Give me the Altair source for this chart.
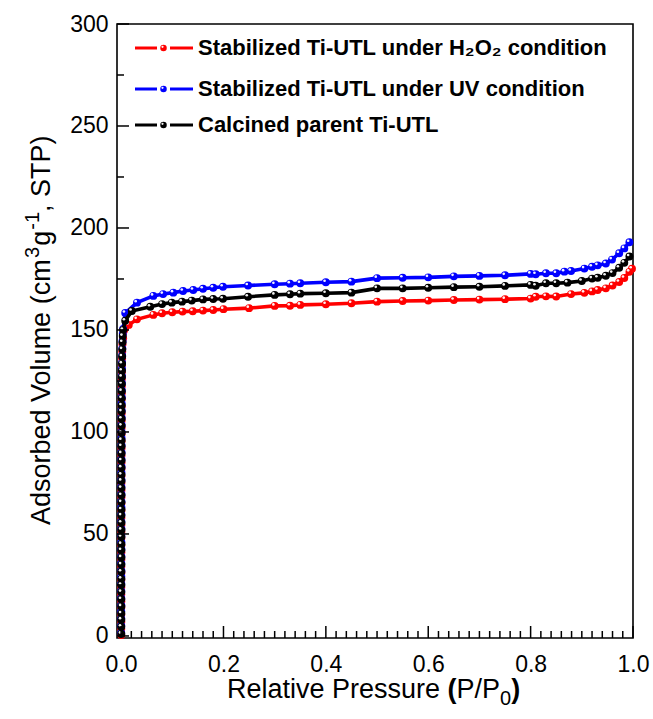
import altair as alt
import pandas as pd

FONT = "Liberation Sans"
W, H = 516, 614

# ---------------- data ----------------
series_names = ["Stabilized Ti-UTL under H\u2082O\u2082 condition",
                "Stabilized Ti-UTL under UV condition",
                "Calcined parent Ti-UTL"]
series_colors = ["#ff0000", "#0000ff", "#000000"]

# near-vertical low-pressure part (P/P0 ~ 0)
red_col_x = [0.0004, 0.0004, 0.0005, 0.0004, 0.0005, 0.0005, 0.0004, 0.0005, 0.0005, 0.0006,
             0.0005, 0.0006, 0.0006, 0.0005, 0.0006, 0.0006, 0.0007, 0.0006, 0.0007, 0.0007,
             0.0007, 0.0008, 0.0007, 0.0008, 0.0008, 0.0009, 0.0008, 0.0009, 0.0009, 0.0010,
             0.0010, 0.0011, 0.0011, 0.0012, 0.0012, 0.0013, 0.0014, 0.0015, 0.0016, 0.0018,
             0.0020, 0.0023, 0.0027]
red_col_y = [0.5, 3.5, 7, 10.5, 14, 17, 20.5, 24, 27.5, 31,
             34, 37.5, 41, 44.5, 48, 51, 54.5, 58, 61.5, 65,
             68, 71.5, 75, 78.5, 82, 85, 88.5, 92, 95.5, 99,
             102, 105.5, 109, 112.5, 116, 119, 122.5, 126, 129.5, 133,
             136, 139.5, 143]
blue_col_x = [0.0003, 0.0004, 0.0004, 0.0004, 0.0005, 0.0004, 0.0005, 0.0005, 0.0005, 0.0006,
              0.0005, 0.0006, 0.0006, 0.0006, 0.0006, 0.0007, 0.0006, 0.0007, 0.0007, 0.0007,
              0.0008, 0.0007, 0.0008, 0.0008, 0.0009, 0.0008, 0.0009, 0.0009, 0.0010, 0.0010,
              0.0011, 0.0011, 0.0012, 0.0012, 0.0013, 0.0014, 0.0015, 0.0016, 0.0017, 0.0019,
              0.0021, 0.0024, 0.0028, 0.0033]
blue_col_y = [1.5, 5, 8.5, 12, 15, 18.5, 22, 25.5, 29, 32,
              35.5, 39, 42.5, 46, 49, 52.5, 56, 59.5, 63, 66,
              69.5, 73, 76.5, 80, 83, 86.5, 90, 93.5, 97, 100,
              103.5, 107, 110.5, 114, 117, 120.5, 124, 127.5, 131, 134,
              137.5, 141, 144.5, 148]
black_col_x = [0.0004, 0.0004, 0.0004, 0.0005, 0.0005, 0.0004, 0.0005, 0.0005, 0.0006, 0.0005,
               0.0006, 0.0006, 0.0005, 0.0006, 0.0006, 0.0007, 0.0007, 0.0006, 0.0007, 0.0007,
               0.0008, 0.0007, 0.0008, 0.0008, 0.0008, 0.0009, 0.0009, 0.0009, 0.0010, 0.0010,
               0.0011, 0.0011, 0.0012, 0.0012, 0.0013, 0.0014, 0.0015, 0.0016, 0.0017, 0.0019,
               0.0021, 0.0024, 0.0028, 0.0032]
black_col_y = [1, 4.5, 8, 11, 14.5, 18, 21.5, 25, 28, 31.5,
               35, 38.5, 42, 45, 48.5, 52, 55.5, 59, 62, 65.5,
               69, 72.5, 76, 79, 82.5, 86, 89.5, 93, 96, 99.5,
               103, 106.5, 110, 113, 116.5, 120, 123.5, 127, 130, 133.5,
               137, 140.5, 144, 147]

# plateau / high-pressure part
red_x = [0.004, 0.015, 0.031, 0.063, 0.08, 0.10, 0.12, 0.14, 0.16, 0.18,
         0.20, 0.25, 0.30, 0.33, 0.35, 0.40, 0.45, 0.50, 0.55, 0.60,
         0.65, 0.70, 0.75, 0.80, 0.81, 0.83, 0.85, 0.879, 0.905, 0.92,
         0.931, 0.947, 0.96, 0.973, 0.983, 0.993, 0.998]
red_y = [146, 152.5, 155.2, 157.4, 158.2, 158.7, 159.0, 159.2, 159.5, 159.8,
         160.2, 160.7, 161.8, 161.9, 162.3, 162.6, 163.1, 163.9, 164.2, 164.4,
         164.7, 164.9, 165.1, 165.4, 166.3, 166.5, 166.4, 167.6, 168.2, 168.9,
         169.6, 170.4, 171.8, 173.5, 175.5, 178.5, 180.0]
blue_x = [0.004, 0.008, 0.031, 0.063, 0.082, 0.102, 0.121, 0.141, 0.16, 0.18,
          0.199, 0.248, 0.30, 0.33, 0.35, 0.40, 0.45, 0.50, 0.55, 0.60,
          0.65, 0.70, 0.75, 0.80, 0.81, 0.83, 0.85, 0.866, 0.879, 0.905,
          0.92, 0.931, 0.947, 0.959, 0.973, 0.983, 0.993]
blue_y = [150.5, 158.3, 163.4, 166.7, 167.6, 168.3, 169.1, 169.6, 170.2, 170.7,
          171.2, 171.8, 172.4, 172.7, 172.9, 173.4, 173.7, 175.4, 175.6, 175.8,
          176.3, 176.5, 176.8, 177.5, 177.3, 177.8, 177.8, 178.6, 178.9, 180.1,
          181.0, 181.7, 182.6, 184.5, 187.6, 190.0, 193.0]
black_x = [0.004, 0.008, 0.021, 0.057, 0.08, 0.099, 0.119, 0.138, 0.16, 0.18,
           0.199, 0.248, 0.30, 0.33, 0.35, 0.40, 0.45, 0.50, 0.55, 0.60,
           0.65, 0.70, 0.75, 0.80, 0.81, 0.83, 0.85, 0.872, 0.90, 0.92,
           0.931, 0.947, 0.96, 0.973, 0.983, 0.993]
black_y = [150, 154.5, 159.3, 161.4, 162.7, 163.4, 163.9, 164.4, 165.0, 165.2,
           165.3, 166.3, 167.2, 167.5, 167.8, 168.0, 168.3, 170.4, 170.4, 170.7,
           171.0, 171.2, 171.6, 172.1, 171.7, 172.9, 172.9, 173.2, 174.0, 175.2,
           175.6, 176.6, 177.9, 180.5, 182.9, 186.0]

x_major = [0.0, 0.2, 0.4, 0.6, 0.8, 1.0]
x_minor = [0.02, 0.04, 0.06, 0.08, 0.10, 0.12, 0.14, 0.16, 0.18,
           0.22, 0.24, 0.26, 0.28, 0.30, 0.32, 0.34, 0.36, 0.38,
           0.42, 0.44, 0.46, 0.48, 0.50, 0.52, 0.54, 0.56, 0.58,
           0.62, 0.64, 0.66, 0.68, 0.70, 0.72, 0.74, 0.76, 0.78,
           0.82, 0.84, 0.86, 0.88, 0.90, 0.92, 0.94, 0.96, 0.98]
y_major = [0, 50, 100, 150, 200, 250, 300]
y_minor = [25, 75, 125, 175, 225, 275]

# ---------------- scales / axes ----------------
xs = alt.Scale(domain=[-0.008, 1.0], nice=False, zero=False)
ys = alt.Scale(domain=[-1, 300], nice=False, zero=False)

x_axis = alt.Axis(values=x_major, format=".1f", grid=False, domain=False, ticks=False,
                  labelFont=FONT, labelFontSize=23, labelColor="black", labelPadding=15,
                  labelFlush=False, title="")
y_axis = alt.Axis(values=y_major, format="d", grid=False, domain=False, ticks=False,
                  labelFont=FONT, labelFontSize=23, labelColor="black", labelPadding=9,
                  labelFlush=False, title="")


def X(field):
    return alt.X(field, scale=xs, axis=x_axis)


def Y(field):
    return alt.Y(field, scale=ys, axis=y_axis)


def series_layers(xcol, ycol, xmain, ymain, color):
    xv = list(xcol) + list(xmain)
    yv = list(ycol) + list(ymain)
    df = pd.DataFrame({"x": xv, "y": yv, "i": list(range(len(xv)))})
    base = alt.Chart(df)
    line = base.mark_line(color=color, strokeWidth=3.6).encode(x=X("x:Q"), y=Y("y:Q"), order="i:Q")
    pts = base.mark_point(filled=True, color=color, size=62, opacity=1).encode(x=X("x:Q"), y=Y("y:Q"))
    hl = base.mark_point(filled=True, color="white", size=7, opacity=0.95).encode(
        x=X("x:Q"), y=Y("y:Q"), xOffset=alt.value(-1.3), yOffset=alt.value(-1.5))
    return [line, pts, hl]


layers = []
layers += series_layers(red_col_x, red_col_y, red_x, red_y, series_colors[0])
layers += series_layers(blue_col_x, blue_col_y, blue_x, blue_y, series_colors[1])
layers += series_layers(black_col_x, black_col_y, black_x, black_y, series_colors[2])

# inward ticks
tx_major = alt.Chart(pd.DataFrame({"x": x_major})).mark_rule(color="black", strokeWidth=1.5).encode(
    x=X("x:Q"), y=alt.value(H), y2=alt.value(H - 12))
tx_minor = alt.Chart(pd.DataFrame({"x": x_minor})).mark_rule(color="black", strokeWidth=1.5).encode(
    x=X("x:Q"), y=alt.value(H), y2=alt.value(H - 7))
ty_major = alt.Chart(pd.DataFrame({"y": y_major})).mark_rule(color="black", strokeWidth=1.5).encode(
    y=Y("y:Q"), x=alt.value(0), x2=alt.value(12))
ty_minor = alt.Chart(pd.DataFrame({"y": y_minor})).mark_rule(color="black", strokeWidth=1.5).encode(
    y=Y("y:Q"), x=alt.value(0), x2=alt.value(7))
layers += [tx_major, tx_minor, ty_major, ty_minor]

# legend (upper-left corner of the plot, pixel positions inside the plot)
leg = pd.DataFrame({"label": series_names, "color": series_colors, "ty": [24, 65, 101]})
lbase = alt.Chart(leg)
LY = alt.Y("ty:Q", scale=None)
leg_l1 = lbase.mark_rule(strokeWidth=3).encode(
    x=alt.value(18), x2=alt.value(40), y=LY, color=alt.Color("color:N", scale=None))
leg_l2 = lbase.mark_rule(strokeWidth=3).encode(
    x=alt.value(53), x2=alt.value(76), y=LY, color=alt.Color("color:N", scale=None))
leg_pt = lbase.mark_point(filled=True, size=42, opacity=1).encode(
    x=alt.value(46.5), y=LY, color=alt.Color("color:N", scale=None))
leg_hl = lbase.mark_point(filled=True, size=5, color="white", opacity=0.95).encode(
    x=alt.value(45.5), y=LY, yOffset=alt.value(-1.2))
leg_tx = lbase.mark_text(align="left", baseline="middle", font=FONT, fontSize=22,
                         fontWeight="bold", color="black").encode(
    x=alt.value(81), y=LY, text="label:N")
layers += [leg_l1, leg_l2, leg_pt, leg_hl, leg_tx]


# axis titles, built from pieces so that sub/superscripts and bold parts match
def piece(text, x, y, size, weight="normal", angle=0):
    return alt.Chart(pd.DataFrame({"t": [text]})).mark_text(
        align="left", baseline="alphabetic", font=FONT, fontSize=size,
        fontWeight=weight, angle=angle, color="black").encode(
        x=alt.value(x), y=alt.value(y), text="t:N")


TS = 27   # title font size
SS = 20   # sub/superscript size
# x title: "Relative Pressure (P/P0)"
x0, yb = 110, 674
xa = x0 + (7.891 + 0.278) * TS
layers += [
    piece("Relative Pressure", x0, yb, TS),
    piece("(", xa, yb, TS, "bold"),
    piece("P/P", xa + 0.333 * TS, yb, TS),
    piece("0", xa + 1.945 * TS, yb + 7, SS),
    piece(")", xa + 1.945 * TS + 0.556 * SS, yb, TS, "bold"),
]
# y title: "Adsorbed Volume (cm3g-1, STP)" rotated
bx, by = -67, 501
y1 = by - 9.892 * TS
y2 = y1 - 0.556 * SS - 1
y3 = y2 - 0.556 * TS - 1
y4 = y3 - 0.889 * SS
layers += [
    piece("Adsorbed Volume (cm", bx, by, TS, angle=270),
    piece("3", bx - 11, y1, SS, angle=270),
    piece("g", bx, y2, TS, angle=270),
    piece("-1", bx - 11, y3, SS, angle=270),
    piece(", STP)", bx, y4, TS, angle=270),
]

chart = alt.layer(*layers).properties(
    width=W, height=H,
    padding={"left": 117, "top": 24, "right": 20, "bottom": 81},
    autosize=alt.AutoSizeParams(type="none"),
    background="white",
).configure_view(stroke="black", strokeWidth=1.6)

chart.save("out.html", embed_options={"renderer": "svg", "actions": False})
